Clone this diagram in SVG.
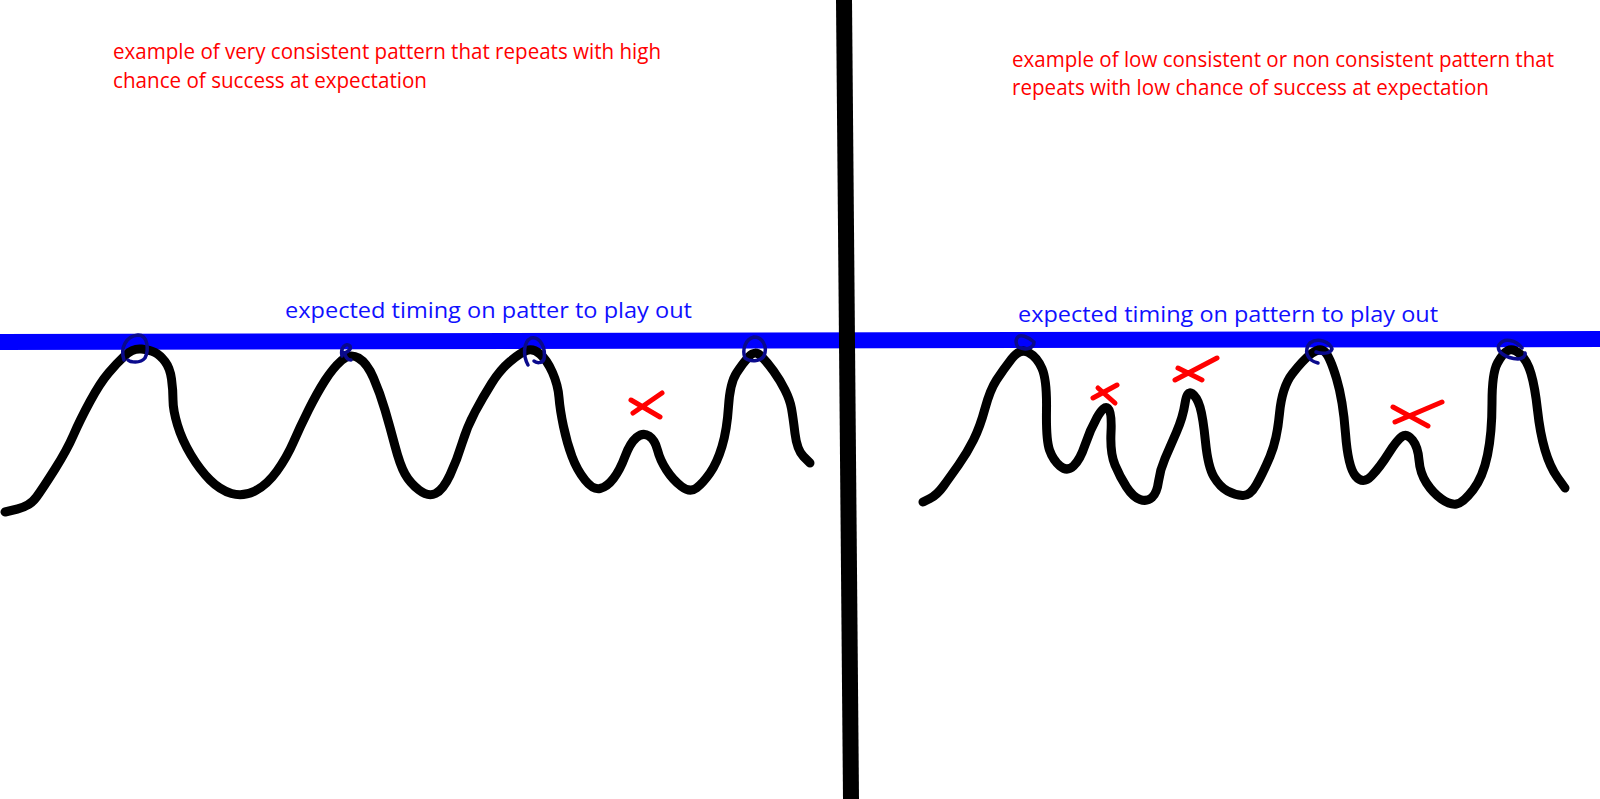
<svg xmlns="http://www.w3.org/2000/svg" width="1600" height="799" viewBox="0 0 1600 799">
<style>
.curve{fill:none;stroke:#000;stroke-width:9;stroke-linejoin:round;stroke-linecap:round}
.mark{fill:none;stroke:#0a0a8c;stroke-width:3.5;stroke-linejoin:round;stroke-linecap:round}
.x{fill:none;stroke:#ff0000;stroke-width:5;stroke-linecap:round}
.red{font-family:"Open Sans","Liberation Sans",sans-serif;font-size:22px;fill:#ff0000}
.blue{font-family:"Open Sans","Liberation Sans",sans-serif;font-size:21px;fill:#1010ff}
</style>
<rect width="1600" height="799" fill="#fff"/>
<g id="timing-line">
<polygon points="0,334 1600,331 1600,347 0,350" fill="#0000ff"/>
</g>
<g id="divider">
<polygon points="836,0 852,0 859,799 843,799" fill="#000"/>
</g>
<g id="left-title">
<text class="red" x="113" y="59" textLength="548" lengthAdjust="spacingAndGlyphs">example of very consistent pattern that repeats with high</text>
<text class="red" x="113" y="88" textLength="314" lengthAdjust="spacingAndGlyphs">chance of success at expectation</text>
</g>
<g id="right-title">
<text class="red" x="1012" y="67" textLength="542" lengthAdjust="spacingAndGlyphs">example of low consistent or non consistent pattern that</text>
<text class="red" x="1012" y="95" textLength="477" lengthAdjust="spacingAndGlyphs">repeats with low chance of success at expectation</text>
</g>
<g id="left-label">
<text class="blue" x="285" y="318" textLength="407" lengthAdjust="spacingAndGlyphs">expected timing on patter to play out</text>
</g>
<g id="right-label">
<text class="blue" x="1018" y="322" textLength="420" lengthAdjust="spacingAndGlyphs">expected timing on pattern to play out</text>
</g>
<g id="left-curve">
<path class="curve" d="M5,512 L17.5,509 Q30,506 36.5,497 Q43,488 55,469 Q67,450 73.5,435 Q80,420 90,401.5 Q100,383 108.5,373 Q117,363 125,355.5 Q133,348 141.5,349 Q150,350 155,352.5 Q160,355 165,361.5 Q170,368 171.5,379 Q173,390 173,400 Q173,410 177.5,425 Q182,440 191,455 Q200,470 210,480 Q220,490 231.5,493.5 Q243,497 255,491 Q267,485 277,471 Q287,457 293.5,442 Q300,427 308.5,410 Q317,393 325,380.5 Q333,368 341.5,360.5 Q350,353 358.5,358 Q367,363 373.5,378 Q380,393 385,410 Q390,427 395,446 Q400,465 405,474 Q410,483 419,490 Q428,497 435.5,493.5 Q443,490 450,475 Q457,460 462,443.5 Q467,427 475,412 Q483,397 491.5,383.5 Q500,370 510,361.5 Q520,353 526.5,350.5 Q533,348 540,354 Q547,360 552.5,372.5 Q558,385 559,397.5 Q560,410 563.5,426.5 Q567,443 572,456.5 Q577,470 585,480 Q593,490 600,488.5 Q607,487 613.5,478.5 Q620,470 625,456.5 Q630,443 636.5,437.5 Q643,432 649,436 Q655,440 657.5,450 Q660,460 666.5,470 Q673,480 681.5,486.5 Q690,493 696.5,488 Q703,483 710,473 Q717,463 722,446.5 Q727,430 728.5,406.5 Q730,383 736.5,373 Q743,363 749,356.5 Q755,350 761,356 Q767,362 773.5,371 Q780,380 785,390 Q790,400 791.5,408.5 Q793,417 795,433.5 Q797,450 803.5,456.5 L810,463"/>
</g>
<g id="right-curve">
<path class="curve" d="M923,502 L930,498.5 Q937,495 943.5,486 Q950,477 958.5,465 Q967,453 973.5,440 Q980,427 985,408.5 Q990,390 996.5,380 Q1003,370 1011.5,359 Q1020,348 1028.5,352.5 Q1037,357 1042,368.5 Q1047,380 1046.5,410 Q1046,440 1049.5,450 Q1053,460 1060,466 Q1067,472 1073.5,466 Q1080,460 1085,445 Q1090,430 1097,417.5 Q1104,405 1108,408.5 Q1112,412 1111,432.5 Q1110,453 1115,465 Q1120,477 1126.5,487 Q1133,497 1140,499.5 Q1147,502 1152,497.5 Q1157,493 1158.5,481.5 Q1160,470 1165,458.5 Q1170,447 1176.5,432 Q1183,417 1185,403.5 Q1187,390 1192,393.5 Q1197,397 1200,407 Q1203,417 1205.5,442 Q1208,467 1214,477 Q1220,487 1227.5,491 Q1235,495 1242.5,495.5 Q1250,496 1256.5,484.5 Q1263,473 1270,456.5 Q1277,440 1279.5,413.5 Q1282,387 1292.5,373.5 Q1303,360 1311.5,353.5 Q1320,347 1325,352 Q1330,357 1336.5,378.5 Q1343,400 1345.5,433.5 Q1348,467 1355.5,476 Q1363,485 1371.5,476 Q1380,467 1388.5,453.5 Q1397,440 1402,436.5 Q1407,433 1412.5,440 Q1418,447 1419,460 Q1420,473 1426.5,483 Q1433,493 1441.5,499 Q1450,505 1456.5,504 Q1463,503 1473,490 Q1483,477 1487.5,455 Q1492,433 1492,403 Q1492,373 1497.5,363 Q1503,353 1508,350.5 Q1513,348 1520,354 Q1527,360 1531,373.5 Q1535,387 1537.5,410 Q1540,433 1545,450 Q1550,467 1557.5,477.5 L1565,488"/>
</g>
<g id="left-marks">
<path class="mark" d="M124,360 C120,348 126,336 138,335 C148,335 149,350 145,358 C140,364 130,362 128,360"/>
<path class="mark" d="M342,356 C340,348 346,342 350,346 C352,350 345,354 343,352 M345,354 C346,358 348,360 351,360"/>
<path class="mark" d="M528,365 C523,356 523,342 531,338 C540,336 546,348 544,359 C542,364 536,363 534,361"/>
<path class="mark" d="M745,358 C742,350 745,339 754,337 C762,337 768,346 764,356 C760,362 750,362 745,358"/>
</g>
<g id="right-marks">
<path class="mark" d="M1017,338 C1020,333 1028,337 1034,342 C1034,348 1026,351 1018,347 C1015,343 1016,340 1017,338"/>
<path class="mark" d="M1318,363 C1306,360 1304,350 1310,343 C1318,337 1330,342 1332,349 C1330,354 1322,354 1316,352"/>
<path class="mark" d="M1522,348 C1516,340 1504,337 1499,345 C1496,352 1506,358 1518,359 C1522,359 1526,356 1525,353"/>
</g>
<g id="red-x">
<path class="x" d="M631,400 L660,417 M662,393 L633,413"/>
<path class="x" d="M1093,398 L1117,385 M1098,388 L1115,403"/>
<path class="x" d="M1175,380 L1217,358 M1178,368 L1202,380"/>
<path class="x" d="M1395,422 L1442,402 M1393,407 L1428,426"/>
</g>
</svg>
